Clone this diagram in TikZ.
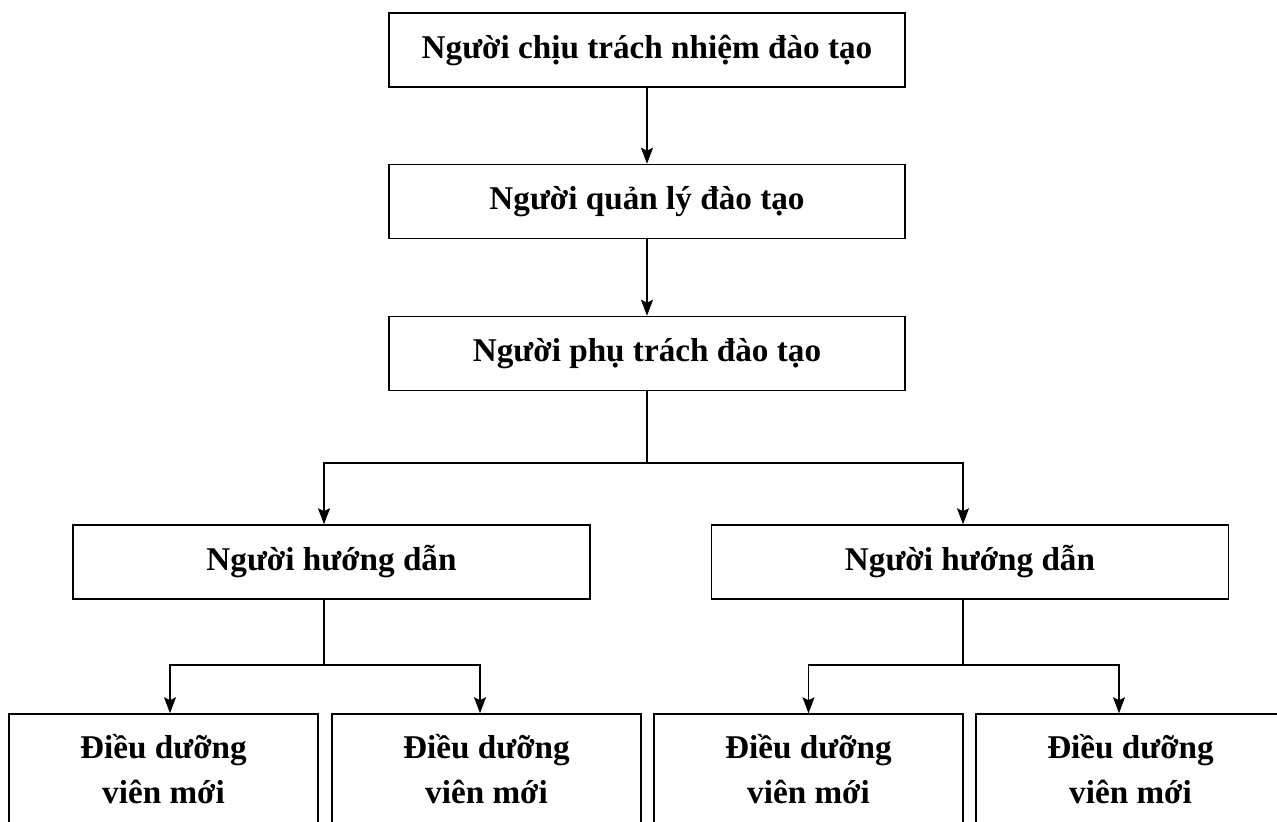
\documentclass[tikz,border=0pt]{standalone}
\usepackage{fontspec}
\setmainfont{Liberation Serif}
\usetikzlibrary{arrows.meta}
\tikzset{
  box/.style={draw,line width=0.75pt,inner sep=0pt,align=center,
    font=\bfseries\fontsize{16.6}{22.5}\selectfont},
  topbox/.style={box,minimum width=258pt,minimum height=37pt},
  midbox/.style={box,minimum width=258.5pt,minimum height=37pt},
  lowbox/.style={box,minimum width=154.5pt,minimum height=55pt},
  arr/.style={-{Stealth[length=8pt,width=6pt,inset=1.5pt]},line width=0.75pt},
  link/.style={line width=0.75pt}
}
\begin{document}
\begin{tikzpicture}[x=0.5pt,y=-0.5pt]
    \useasboundingbox (0,0) rectangle (1277,822);
    \clip (0,0) rectangle (1277,822);
    %livelli superiori
    \node[topbox](resp) at (647,50){Người chịu trách nhiệm đào tạo};
    \node[topbox](quanly) at (647,201.5){Người quản lý đào tạo};
    \node[topbox](phutrach) at (647,353.5){Người phụ trách đào tạo};
    \draw[arr](resp)--(quanly);
    \draw[arr](quanly)--(phutrach);

    %livello intermedio
    \node[midbox](hd1) at (331.5,562){Người hướng dẫn};
    \node[midbox](hd2) at (970,562){Người hướng dẫn};
    \coordinate (j0) at (647,463);
    \draw[link](phutrach)--(j0);
    \draw[arr](j0)-|([xshift=-3.75pt]hd1.north);
    \draw[arr](j0)-|([xshift=-3.5pt]hd2.north);

    %livello inferiore
    \node[lowbox](dd1) at (163.5,769){Điều dưỡng\\viên mới};
    \node[lowbox](dd2) at (486.5,769){Điều dưỡng\\viên mới};
    \node[lowbox](dd3) at (808.5,769){Điều dưỡng\\viên mới};
    \node[lowbox](dd4) at (1130.5,769){Điều dưỡng\\viên mới};
    \coordinate (j1) at (324,665);
    \coordinate (j2) at (963,665);
    \draw[link](hd1.south -| j1)--(j1);
    \draw[link](hd2.south -| j2)--(j2);
    \draw[arr](j1)-|([xshift=3.25pt]dd1.north);
    \draw[arr](j1)-|([xshift=-3.25pt]dd2.north);
    \draw[arr](j2)-|(dd3.north);
    \draw[arr](j2)-|([xshift=-5.75pt]dd4.north);
\end{tikzpicture}
\end{document}
